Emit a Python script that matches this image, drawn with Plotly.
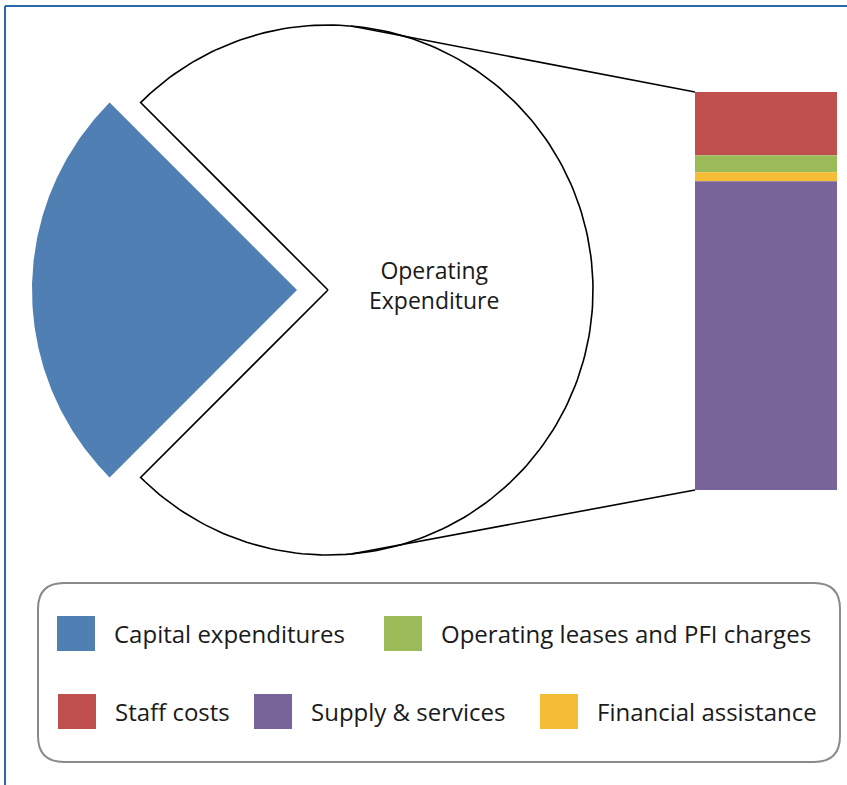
import numpy as np
import plotly.graph_objects as go

# main pie: share of total expenditure
pie_labels = ["Capital expenditures", "Operating Expenditure"]
pie_values = [25.0, 75.0]

# breakdown of operating expenditure (top of bar to bottom)
op_labels = ["Staff costs", "Operating leases and PFI charges", "Financial assistance", "Supply & services"]
op_values = [11.9, 3.2, 1.7, 58.2]

# legend layout rows
legend_rows = [["Capital expenditures", "Operating leases and PFI charges"],
               ["Staff costs", "Supply & services", "Financial assistance"]]

colors = {
   "Capital expenditures": "#4f7fb3",
   "Staff costs": "#c0504d",
   "Operating leases and PFI charges": "#9bbb59",
   "Financial assistance": "#f4bd35",
   "Supply & services": "#786499",
}

W, H = 847, 785
cx, cy, R = 328, 290, 265   # pie centre / radius in pixels
pull = 31                   # explode offset of the capital slice
bar_x0, bar_x1 = 695, 837
bar_top, bar_bot = 92, 490

fig = go.Figure()

total = sum(pie_values)
cap_angle = 2 * np.pi * pie_values[0] / total
half = cap_angle / 2


def wedge(x0, y0, a0, a1, n=200):
   t = np.linspace(a0, a1, n)
   xs = np.concatenate([[x0], x0 + R * np.cos(t), [x0]])
   ys = np.concatenate([[y0], y0 - R * np.sin(t), [y0]])
   return xs, ys

# operating expenditure slice (white, outlined)
xs, ys = wedge(cx, cy, np.pi + half - 2 * np.pi, np.pi - half)
fig.add_trace(go.Scatter(x=xs, y=ys, mode='lines', fill='toself', fillcolor='white',
                         line=dict(color='black', width=1.6), hoverinfo='skip', showlegend=False))

# capital slice (exploded to the left)
xs, ys = wedge(cx - pull, cy, np.pi - half, np.pi + half)
fig.add_trace(go.Scatter(x=xs, y=ys, mode='lines', fill='toself', fillcolor=colors["Capital expenditures"],
                         line=dict(width=0), hoverinfo='skip', showlegend=False))

# stacked bar for operating breakdown
scale = (bar_bot - bar_top) / sum(op_values)
base = bar_top
for lab, v in zip(op_labels, op_values):
   fig.add_trace(go.Bar(x=[(bar_x0 + bar_x1) / 2], y=[v * scale], base=[base], width=bar_x1 - bar_x0,
                        marker=dict(color=colors[lab], line=dict(width=0)), showlegend=False, hoverinfo='skip'))
   base += v * scale

# connector lines from pie to bar
a = np.deg2rad(85)
for sgn, by in [(1, bar_top), (-1, bar_bot)]:
   px = cx + R * np.cos(a)
   py = cy - sgn * R * np.sin(a)
   fig.add_trace(go.Scatter(x=[px, bar_x0], y=[py, by], mode='lines',
                            line=dict(color='black', width=1.6), hoverinfo='skip', showlegend=False))

font_pie = dict(family="Open Sans", size=23, color="#1a1a1a")
fig.add_annotation(x=434, y=285, text="Operating<br>Expenditure", showarrow=False,
                   font=font_pie, xref='x', yref='y')

# legend box
shapes = []
lx0, lx1, ly0, ly1, rr = 38, 840, 583, 762, 26
path = (f"M {lx0+rr},{ly0} L {lx1-rr},{ly0} Q {lx1},{ly0} {lx1},{ly0+rr} "
        f"L {lx1},{ly1-rr} Q {lx1},{ly1} {lx1-rr},{ly1} L {lx0+rr},{ly1} "
        f"Q {lx0},{ly1} {lx0},{ly1-rr} L {lx0},{ly0+rr} Q {lx0},{ly0} {lx0+rr},{ly0} Z")
shapes.append(dict(type='path', path=path, xref='x', yref='y', line=dict(color='#8a8a8a', width=2)))

row_y = [633, 711]
row_x = [[57, 384], [58, 254, 540]]
font_leg = dict(family="Open Sans", size=24, color="#1a1a1a")
for items, xs_, yc in zip(legend_rows, row_x, row_y):
   for lab, x0 in zip(items, xs_):
      shapes.append(dict(type='rect', xref='x', yref='y', x0=x0, x1=x0 + 38, y0=yc - 17, y1=yc + 18,
                         fillcolor=colors[lab], line=dict(width=0)))
      fig.add_annotation(x=x0 + 55, y=yc, text=lab, showarrow=False, xanchor='left',
                         font=font_leg, xref='x', yref='y')

# blue frame (top and left edges)
shapes.append(dict(type='line', xref='x', yref='y', x0=5, x1=W, y0=6, y1=6, line=dict(color='#2a68ab', width=2)))
shapes.append(dict(type='line', xref='x', yref='y', x0=5, x1=5, y0=6, y1=H, line=dict(color='#2a68ab', width=2)))

fig.update_layout(
   width=W, height=H,
   margin=dict(l=0, r=0, t=0, b=0),
   plot_bgcolor='white', paper_bgcolor='white',
   barmode='overlay',
   shapes=shapes,
   xaxis=dict(range=[0, W], visible=False, fixedrange=True),
   yaxis=dict(range=[H, 0], visible=False, fixedrange=True),
   showlegend=False,
)

# drop the default page margin so the figure sits at the window origin
fig.write_html("out.html", config=dict(displayModeBar=False),
               post_script="document.body.style.margin='0';document.body.style.overflow='hidden';")
